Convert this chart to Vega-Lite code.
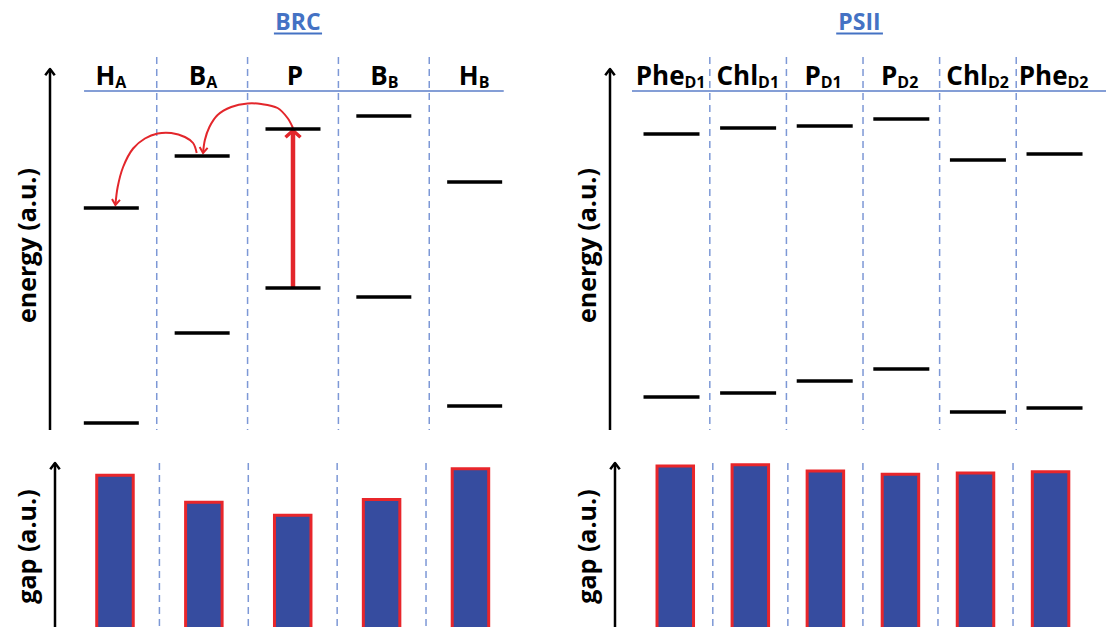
{
  "$schema": "https://vega.github.io/schema/vega-lite/v6.json",
  "padding": {"left": 15, "top": 0, "right": 0, "bottom": 0},
  "background": "white",
  "config": {
    "view": {"stroke": null},
    "axis": {"grid": false, "domain": false, "ticks": false, "labels": false, "titleFont": "Open Sans", "titleFontSize": 25, "titleFontWeight": "bold", "titleColor": "#000000", "titlePadding": 10, "minExtent": 0}
  },
  "datasets": {
    "brc": [
      {"mol": "HA", "main": "H", "sub": "A", "idx": 0, "upper": 222, "lower": 7, "gap": 215},
      {"mol": "BA", "main": "B", "sub": "A", "idx": 1, "upper": 274, "lower": 97, "gap": 177},
      {"mol": "P", "main": "P", "sub": "", "idx": 2, "upper": 301, "lower": 142, "gap": 159},
      {"mol": "BB", "main": "B", "sub": "B", "idx": 3, "upper": 314, "lower": 133, "gap": 181},
      {"mol": "HB", "main": "H", "sub": "B", "idx": 4, "upper": 248, "lower": 24, "gap": 224}
    ],
    "psii": [
      {"mol": "PheD1", "main": "Phe", "sub": "D1", "idx": 0, "upper": 296, "lower": 33, "gap": 263},
      {"mol": "ChlD1", "main": "Chl", "sub": "D1", "idx": 1, "upper": 302, "lower": 37, "gap": 265},
      {"mol": "PD1", "main": "P", "sub": "D1", "idx": 2, "upper": 304, "lower": 49, "gap": 255},
      {"mol": "PD2", "main": "P", "sub": "D2", "idx": 3, "upper": 311, "lower": 61, "gap": 250},
      {"mol": "ChlD2", "main": "Chl", "sub": "D2", "idx": 4, "upper": 270, "lower": 18, "gap": 252},
      {"mol": "PheD2", "main": "Phe", "sub": "D2", "idx": 5, "upper": 276, "lower": 22, "gap": 254}
    ],
    "brc_paths": [
      {"path": "P to BA", "step": 1, "x": 2.0, "e": 302},
      {"path": "P to BA", "step": 2, "x": 1.94, "e": 312},
      {"path": "P to BA", "step": 3, "x": 1.83, "e": 322},
      {"path": "P to BA", "step": 4, "x": 1.65, "e": 326},
      {"path": "P to BA", "step": 5, "x": 1.5, "e": 326.5},
      {"path": "P to BA", "step": 6, "x": 1.32, "e": 323},
      {"path": "P to BA", "step": 7, "x": 1.17, "e": 315},
      {"path": "P to BA", "step": 8, "x": 1.08, "e": 303},
      {"path": "P to BA", "step": 9, "x": 1.03, "e": 290},
      {"path": "P to BA", "step": 10, "x": 1.01, "e": 277},
      {"path": "BA to HA", "step": 1, "x": 0.94, "e": 277},
      {"path": "BA to HA", "step": 2, "x": 0.9, "e": 287},
      {"path": "BA to HA", "step": 3, "x": 0.81, "e": 293},
      {"path": "BA to HA", "step": 4, "x": 0.66, "e": 297},
      {"path": "BA to HA", "step": 5, "x": 0.51, "e": 296.5},
      {"path": "BA to HA", "step": 6, "x": 0.37, "e": 291.5},
      {"path": "BA to HA", "step": 7, "x": 0.24, "e": 281.5},
      {"path": "BA to HA", "step": 8, "x": 0.13, "e": 263},
      {"path": "BA to HA", "step": 9, "x": 0.07, "e": 243},
      {"path": "BA to HA", "step": 10, "x": 0.045, "e": 225}
    ]
  },
  "spacing": 64,
  "hconcat": [
    {
      "spacing": 29,
      "vconcat": [
        {
          "width": 461,
          "height": 430,
          "data": {"name": "brc"},
          "layer": [
            {
              "transform": [{"filter": "datum.idx < 4"}, {"calculate": "datum.idx + 0.5", "as": "b"}],
              "mark": {"type": "rule", "color": "#7d98d6", "strokeWidth": 1.5, "strokeDash": [7, 5]},
              "encoding": {
                "x": {"field": "b", "type": "quantitative", "scale": {"domain": [-0.675, 4.4], "nice": false, "zero": false}, "axis": null},
                "y": {"datum": 373, "type": "quantitative", "scale": {"domain": [0, 430], "nice": false, "zero": false}, "title": "energy (a.u.)", "axis": {"titleY": 245}},
                "y2": {"datum": 0}
              }
            },
            {
              "data": {"values": [{"t": "BRC"}]},
              "mark": {"type": "rule", "color": "#5b7ec8", "strokeWidth": 1.5},
              "encoding": {"x": {"datum": -0.3, "type": "quantitative", "axis": null}, "x2": {"datum": 4.32}, "y": {"datum": 339, "type": "quantitative", "title": "energy (a.u.)"}}
            },
            {
              "data": {"values": [{"t": "BRC"}]},
              "mark": {"type": "text", "align": "center", "baseline": "alphabetic", "font": "Open Sans", "fontSize": 23, "fontWeight": "bold", "color": "#4472c4"},
              "encoding": {"x": {"datum": 2.055, "type": "quantitative", "axis": null}, "y": {"datum": 400, "type": "quantitative", "title": "energy (a.u.)"}, "text": {"field": "t"}}
            },
            {
              "data": {"values": [{"t": "BRC"}]},
              "mark": {"type": "rule", "color": "#4472c4", "strokeWidth": 2},
              "encoding": {"x": {"datum": 1.79, "type": "quantitative", "axis": null}, "x2": {"datum": 2.32}, "y": {"datum": 396.5, "type": "quantitative", "title": "energy (a.u.)"}}
            },
            {
              "transform": [{"filter": "datum.sub != ''"}],
              "mark": {"type": "text", "align": "right", "baseline": "alphabetic", "dx": 4, "font": "Open Sans", "fontSize": 26, "fontWeight": "bold", "color": "#000000"},
              "encoding": {"x": {"field": "idx", "type": "quantitative", "axis": null}, "y": {"datum": 345, "type": "quantitative", "title": "energy (a.u.)"}, "text": {"field": "main"}}
            },
            {
              "transform": [{"filter": "datum.sub != ''"}],
              "mark": {"type": "text", "align": "left", "baseline": "alphabetic", "dx": 4, "font": "Open Sans", "fontSize": 16, "fontWeight": "bold", "color": "#000000"},
              "encoding": {"x": {"field": "idx", "type": "quantitative", "axis": null}, "y": {"datum": 342, "type": "quantitative", "title": "energy (a.u.)"}, "text": {"field": "sub"}}
            },
            {
              "transform": [{"filter": "datum.sub == ''"}],
              "mark": {"type": "text", "align": "center", "baseline": "alphabetic", "dx": 2, "font": "Open Sans", "fontSize": 26, "fontWeight": "bold", "color": "#000000"},
              "encoding": {"x": {"field": "idx", "type": "quantitative", "axis": null}, "y": {"datum": 345, "type": "quantitative", "title": "energy (a.u.)"}, "text": {"field": "main"}}
            },
            {
              "data": {"values": [{"t": "axis"}]},
              "mark": {"type": "rule", "color": "#000000", "strokeWidth": 2.5},
              "encoding": {"x": {"datum": -0.675, "type": "quantitative", "axis": null}, "y": {"datum": 0, "type": "quantitative", "title": "energy (a.u.)"}, "y2": {"datum": 361}}
            },
            {
              "data": {"values": [{"t": "axis"}]},
              "mark": {"type": "point", "shape": "M -1 1.3 L 0 0 L 1 1.3", "size": 90, "filled": false, "color": "#000000", "strokeWidth": 2.5, "strokeJoin": "round", "opacity": 1},
              "encoding": {"x": {"datum": -0.675, "type": "quantitative", "axis": null}, "y": {"datum": 361, "type": "quantitative", "title": "energy (a.u.)"}}
            },
            {
              "data": {"name": "brc_paths"},
              "mark": {"type": "line", "color": "#e3262b", "strokeWidth": 2, "interpolate": "catmull-rom"},
              "encoding": {"x": {"field": "x", "type": "quantitative", "axis": null}, "y": {"field": "e", "type": "quantitative", "title": "energy (a.u.)"}, "detail": {"field": "path"}, "order": {"field": "step"}}
            },
            {
              "data": {"name": "brc_paths"},
              "transform": [{"filter": "datum.step == 10"}],
              "mark": {"type": "point", "shape": "M -1 -1.4 L 0 0 L 1 -1.4", "size": 64, "filled": false, "color": "#e3262b", "strokeWidth": 2, "angle": 6, "opacity": 1},
              "encoding": {"x": {"field": "x", "type": "quantitative", "axis": null}, "y": {"field": "e", "type": "quantitative", "title": "energy (a.u.)"}}
            },
            {
              "transform": [{"filter": "datum.mol == 'P'"}],
              "mark": {"type": "rule", "color": "#e3262b", "strokeWidth": 4.5},
              "encoding": {"x": {"field": "idx", "type": "quantitative", "axis": null}, "y": {"field": "lower", "type": "quantitative", "title": "energy (a.u.)"}, "y2": {"field": "upper"}}
            },
            {
              "transform": [{"filter": "datum.mol == 'P'"}],
              "mark": {"type": "point", "shape": "M -1 1.1 L 0 0.2 L 1 1.1", "size": 225, "filled": false, "color": "#e3262b", "strokeWidth": 3.5, "opacity": 1},
              "encoding": {"x": {"field": "idx", "type": "quantitative", "axis": null}, "y": {"field": "upper", "type": "quantitative", "title": "energy (a.u.)"}}
            },
            {
              "mark": {"type": "tick", "orient": "horizontal", "size": 55, "thickness": 3.5, "color": "#000000", "opacity": 1},
              "encoding": {"x": {"field": "idx", "type": "quantitative", "axis": null}, "y": {"field": "upper", "type": "quantitative", "title": "energy (a.u.)"}}
            },
            {
              "mark": {"type": "tick", "orient": "horizontal", "size": 55, "thickness": 3.5, "color": "#000000", "opacity": 1},
              "encoding": {"x": {"field": "idx", "type": "quantitative", "axis": null}, "y": {"field": "lower", "type": "quantitative", "title": "energy (a.u.)"}}
            }
          ]
        },
        {
          "width": 461,
          "height": 166,
          "data": {"name": "brc"},
          "layer": [
            {
              "transform": [{"filter": "datum.idx < 4"}, {"calculate": "datum.idx + 0.5", "as": "b"}],
              "mark": {"type": "rule", "color": "#7d98d6", "strokeWidth": 1.5, "strokeDash": [7, 5]},
              "encoding": {"x": {"field": "b", "type": "quantitative", "scale": {"domain": [-0.675, 4.4], "nice": false, "zero": false}, "axis": null}}
            },
            {
              "mark": {"type": "bar", "size": 36.5, "fill": "#364c9f", "stroke": "#e8262b", "strokeWidth": 3, "clip": true},
              "encoding": {
                "x": {"field": "idx", "type": "quantitative", "axis": null},
                "y": {"field": "gap", "type": "quantitative", "scale": {"domain": [0, 232], "nice": false}, "title": "gap (a.u.)"},
                "y2": {"datum": -5}
              }
            },
            {
              "data": {"values": [{"t": "axis"}]},
              "mark": {"type": "rule", "color": "#000000", "strokeWidth": 2.5},
              "encoding": {"x": {"datum": -0.675, "type": "quantitative", "axis": null}, "y": {"datum": 0, "type": "quantitative", "title": "gap (a.u.)"}, "y2": {"datum": 232}}
            },
            {
              "data": {"values": [{"t": "axis"}]},
              "mark": {"type": "point", "shape": "M -1 1.3 L 0 0 L 1 1.3", "size": 90, "filled": false, "color": "#000000", "strokeWidth": 2.5, "strokeJoin": "round", "opacity": 1},
              "encoding": {"x": {"datum": -0.675, "type": "quantitative", "axis": null}, "y": {"datum": 232, "type": "quantitative", "title": "gap (a.u.)"}}
            }
          ]
        }
      ]
    },
    {
      "spacing": 29,
      "vconcat": [
        {
          "width": 496,
          "height": 430,
          "data": {"name": "psii"},
          "layer": [
            {
              "transform": [{"filter": "datum.idx < 5"}, {"calculate": "datum.idx + 0.5", "as": "b"}],
              "mark": {"type": "rule", "color": "#7d98d6", "strokeWidth": 1.5, "strokeDash": [7, 5]},
              "encoding": {
                "x": {"field": "b", "type": "quantitative", "scale": {"domain": [-0.803, 5.672], "nice": false, "zero": false}, "axis": null},
                "y": {"datum": 373, "type": "quantitative", "scale": {"domain": [0, 430], "nice": false, "zero": false}, "title": "energy (a.u.)", "axis": {"titleY": 245}},
                "y2": {"datum": 0}
              }
            },
            {
              "data": {"values": [{"t": "PSII"}]},
              "mark": {"type": "rule", "color": "#5b7ec8", "strokeWidth": 1.5},
              "encoding": {"x": {"datum": -0.516, "type": "quantitative", "axis": null}, "x2": {"datum": 5.672}, "y": {"datum": 339, "type": "quantitative", "title": "energy (a.u.)"}}
            },
            {
              "data": {"values": [{"t": "PSII"}]},
              "mark": {"type": "text", "align": "center", "baseline": "alphabetic", "font": "Open Sans", "fontSize": 23, "fontWeight": "bold", "color": "#4472c4"},
              "encoding": {"x": {"datum": 2.454, "type": "quantitative", "axis": null}, "y": {"datum": 400, "type": "quantitative", "title": "energy (a.u.)"}, "text": {"field": "t"}}
            },
            {
              "data": {"values": [{"t": "PSII"}]},
              "mark": {"type": "rule", "color": "#4472c4", "strokeWidth": 2},
              "encoding": {"x": {"datum": 2.15, "type": "quantitative", "axis": null}, "x2": {"datum": 2.76}, "y": {"datum": 396.5, "type": "quantitative", "title": "energy (a.u.)"}}
            },
            {
              "transform": [{"filter": "datum.main == 'Phe'"}],
              "mark": {"type": "text", "align": "right", "baseline": "alphabetic", "dx": 13, "font": "Open Sans", "fontSize": 26, "fontWeight": "bold", "color": "#000000"},
              "encoding": {"x": {"field": "idx", "type": "quantitative", "axis": null}, "y": {"datum": 345, "type": "quantitative", "title": "energy (a.u.)"}, "text": {"field": "main"}}
            },
            {
              "transform": [{"filter": "datum.main == 'Phe'"}],
              "mark": {"type": "text", "align": "left", "baseline": "alphabetic", "dx": 13, "font": "Open Sans", "fontSize": 16, "fontWeight": "bold", "color": "#000000"},
              "encoding": {"x": {"field": "idx", "type": "quantitative", "axis": null}, "y": {"datum": 342, "type": "quantitative", "title": "energy (a.u.)"}, "text": {"field": "sub"}}
            },
            {
              "transform": [{"filter": "datum.main == 'Chl'"}],
              "mark": {"type": "text", "align": "right", "baseline": "alphabetic", "dx": 10, "font": "Open Sans", "fontSize": 26, "fontWeight": "bold", "color": "#000000"},
              "encoding": {"x": {"field": "idx", "type": "quantitative", "axis": null}, "y": {"datum": 345, "type": "quantitative", "title": "energy (a.u.)"}, "text": {"field": "main"}}
            },
            {
              "transform": [{"filter": "datum.main == 'Chl'"}],
              "mark": {"type": "text", "align": "left", "baseline": "alphabetic", "dx": 10, "font": "Open Sans", "fontSize": 16, "fontWeight": "bold", "color": "#000000"},
              "encoding": {"x": {"field": "idx", "type": "quantitative", "axis": null}, "y": {"datum": 342, "type": "quantitative", "title": "energy (a.u.)"}, "text": {"field": "sub"}}
            },
            {
              "transform": [{"filter": "datum.main == 'P'"}],
              "mark": {"type": "text", "align": "right", "baseline": "alphabetic", "dx": -4, "font": "Open Sans", "fontSize": 26, "fontWeight": "bold", "color": "#000000"},
              "encoding": {"x": {"field": "idx", "type": "quantitative", "axis": null}, "y": {"datum": 345, "type": "quantitative", "title": "energy (a.u.)"}, "text": {"field": "main"}}
            },
            {
              "transform": [{"filter": "datum.main == 'P'"}],
              "mark": {"type": "text", "align": "left", "baseline": "alphabetic", "dx": -4, "font": "Open Sans", "fontSize": 16, "fontWeight": "bold", "color": "#000000"},
              "encoding": {"x": {"field": "idx", "type": "quantitative", "axis": null}, "y": {"datum": 342, "type": "quantitative", "title": "energy (a.u.)"}, "text": {"field": "sub"}}
            },
            {
              "data": {"values": [{"t": "axis"}]},
              "mark": {"type": "rule", "color": "#000000", "strokeWidth": 2.5},
              "encoding": {"x": {"datum": -0.803, "type": "quantitative", "axis": null}, "y": {"datum": 0, "type": "quantitative", "title": "energy (a.u.)"}, "y2": {"datum": 361}}
            },
            {
              "data": {"values": [{"t": "axis"}]},
              "mark": {"type": "point", "shape": "M -1 1.3 L 0 0 L 1 1.3", "size": 90, "filled": false, "color": "#000000", "strokeWidth": 2.5, "strokeJoin": "round", "opacity": 1},
              "encoding": {"x": {"datum": -0.803, "type": "quantitative", "axis": null}, "y": {"datum": 361, "type": "quantitative", "title": "energy (a.u.)"}}
            },
            {
              "mark": {"type": "tick", "orient": "horizontal", "size": 56, "thickness": 3.5, "color": "#000000", "opacity": 1},
              "encoding": {"x": {"field": "idx", "type": "quantitative", "axis": null}, "y": {"field": "upper", "type": "quantitative", "title": "energy (a.u.)"}}
            },
            {
              "mark": {"type": "tick", "orient": "horizontal", "size": 56, "thickness": 3.5, "color": "#000000", "opacity": 1},
              "encoding": {"x": {"field": "idx", "type": "quantitative", "axis": null}, "y": {"field": "lower", "type": "quantitative", "title": "energy (a.u.)"}}
            }
          ]
        },
        {
          "width": 496,
          "height": 166,
          "data": {"name": "psii"},
          "layer": [
            {
              "transform": [{"filter": "datum.idx < 5"}, {"calculate": "datum.idx + 0.5", "as": "b"}],
              "mark": {"type": "rule", "color": "#7d98d6", "strokeWidth": 1.5, "strokeDash": [7, 5]},
              "encoding": {"x": {"field": "b", "type": "quantitative", "scale": {"domain": [-0.803, 5.672], "nice": false, "zero": false}, "axis": null}}
            },
            {
              "mark": {"type": "bar", "size": 36.5, "fill": "#364c9f", "stroke": "#e8262b", "strokeWidth": 3, "clip": true},
              "encoding": {
                "x": {"field": "idx", "type": "quantitative", "axis": null},
                "y": {"field": "gap", "type": "quantitative", "scale": {"domain": [0, 268], "nice": false}, "title": "gap (a.u.)"},
                "y2": {"datum": -5}
              }
            },
            {
              "data": {"values": [{"t": "axis"}]},
              "mark": {"type": "rule", "color": "#000000", "strokeWidth": 2.5},
              "encoding": {"x": {"datum": -0.803, "type": "quantitative", "axis": null}, "y": {"datum": 0, "type": "quantitative", "title": "gap (a.u.)"}, "y2": {"datum": 268}}
            },
            {
              "data": {"values": [{"t": "axis"}]},
              "mark": {"type": "point", "shape": "M -1 1.3 L 0 0 L 1 1.3", "size": 90, "filled": false, "color": "#000000", "strokeWidth": 2.5, "strokeJoin": "round", "opacity": 1},
              "encoding": {"x": {"datum": -0.803, "type": "quantitative", "axis": null}, "y": {"datum": 268, "type": "quantitative", "title": "gap (a.u.)"}}
            }
          ]
        }
      ]
    }
  ]
}
